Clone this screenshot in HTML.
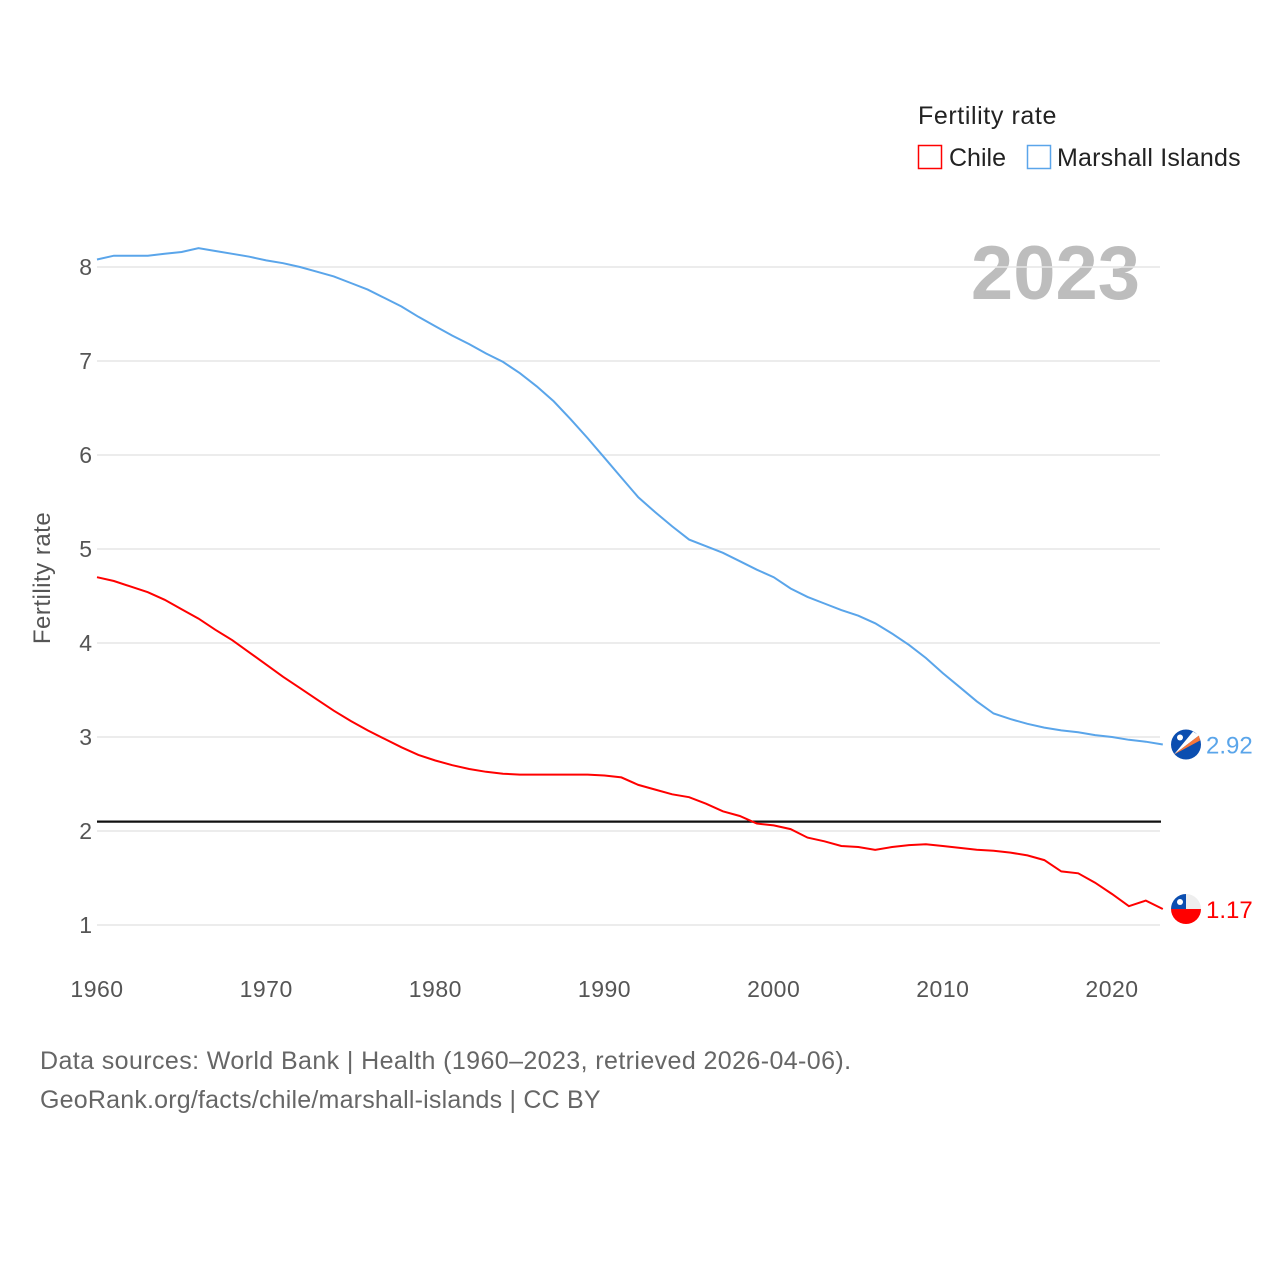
<!DOCTYPE html>
<html><head><meta charset="utf-8"><style>
body{margin:0;background:#fff;font-family:"Liberation Sans",sans-serif}
svg text{font-family:"Liberation Sans",sans-serif}
</style></head><body>
<svg id="chart" width="1280" height="1280" xmlns="http://www.w3.org/2000/svg">
<g>
<text x="918" y="124" font-size="25" fill="#222" letter-spacing="0.6">Fertility rate</text>
<rect x="918.5" y="145.5" width="23" height="23" fill="none" stroke="#ff0000" stroke-width="1.5"/>
<text x="949" y="166" font-size="25" fill="#222">Chile</text>
<rect x="1027.5" y="145.5" width="23" height="23" fill="none" stroke="#5aa5ea" stroke-width="1.5"/>
<text x="1057" y="166" font-size="25" fill="#222" letter-spacing="0.2">Marshall Islands</text>
</g>
<text x="1140" y="299" font-size="76" font-weight="bold" fill="#bdbdbd" text-anchor="end">2023</text>
<g id="grid"></g>
<g id="lines"></g>
<text transform="translate(50,578) rotate(-90)" font-size="24" fill="#555" text-anchor="middle" letter-spacing="0.5">Fertility rate</text>
<text x="40" y="1069" font-size="25" fill="#666" letter-spacing="0.4">Data sources: World Bank | Health (1960–2023, retrieved 2026-04-06).</text>
<text x="40" y="1108" font-size="25" fill="#666" letter-spacing="0.2">GeoRank.org/facts/chile/marshall-islands | CC BY</text>
</svg>
<script>
const years=[];for(let y=1960;y<=2023;y++)years.push(y);
const chile=[4.70,4.66,4.60,4.54,4.46,4.36,4.26,4.14,4.03,3.90,3.77,3.64,3.52,3.40,3.28,3.17,3.07,2.98,2.89,2.81,2.75,2.70,2.66,2.63,2.61,2.60,2.60,2.60,2.60,2.60,2.59,2.57,2.49,2.44,2.39,2.36,2.29,2.21,2.16,2.08,2.06,2.02,1.93,1.89,1.84,1.83,1.80,1.83,1.85,1.86,1.84,1.82,1.80,1.79,1.77,1.74,1.69,1.57,1.55,1.45,1.33,1.20,1.26,1.17];
const marshall=[8.08,8.12,8.12,8.12,8.14,8.16,8.20,8.17,8.14,8.11,8.07,8.04,8.00,7.95,7.90,7.83,7.76,7.67,7.58,7.47,7.37,7.27,7.18,7.08,6.99,6.87,6.73,6.57,6.38,6.18,5.97,5.76,5.55,5.39,5.24,5.10,5.03,4.96,4.87,4.78,4.70,4.58,4.49,4.42,4.35,4.29,4.21,4.10,3.98,3.84,3.68,3.53,3.38,3.25,3.19,3.14,3.10,3.07,3.05,3.02,3.00,2.97,2.95,2.92];
const yTicks=[1,2,3,4,5,6,7,8];
const xTicks=[1960,1970,1980,1990,2000,2010,2020];
const replacement=[2.1];
const X=y=>97+(y-1960)*(1015/60);
const Y=v=>925-(v-1)*94;
const NS="http://www.w3.org/2000/svg";
const grid=document.getElementById('grid'),lines=document.getElementById('lines');
function mk(tag,attrs,parent){const e=document.createElementNS(NS,tag);for(const k in attrs)e.setAttribute(k,attrs[k]);parent.appendChild(e);return e;}
yTicks.forEach(v=>{
 const l=mk('line',{x1:97,x2:1160,y1:Y(v),y2:Y(v),stroke:'#e6e6e6','stroke-width':1.5},grid);
 
 
 const t=mk('text',{x:92,y:Y(v)+8,'font-size':23,fill:'#555','text-anchor':'end'},grid);t.textContent=v;
 
 
});
xTicks.forEach(v=>{
 const t=mk('text',{x:X(v),y:997,'font-size':23,fill:'#555','text-anchor':'middle','letter-spacing':0.5},grid);t.textContent=v;
 
 
});
replacement.forEach(v=>{
 const l=mk('line',{x1:97,x2:1161,y1:Y(v),y2:Y(v),stroke:'#111','stroke-width':2.2},lines);
 
 
});
function series(data,color,name){
 const p=mk('path',{d:data.map((v,i)=>(i?'L':'M')+X(years[i]).toFixed(1)+','+Y(v).toFixed(1)).join(''),fill:'none',stroke:color,'stroke-width':2},lines);
 
 
 const last=data[data.length-1];
 const t=mk('text',{x:1206,y:Y(last)+9,'font-size':24,fill:color},lines);t.textContent=last.toFixed(2);
 
 
 return Y(last);
}
const ym=series(marshall,'#5aa5ea','marshall-islands');
const yc=series(chile,'#ff0000','chile');
const fm=mk('g',{},lines);


mk('circle',{cx:1186,cy:ym,r:15,fill:'#0b4eb0'},fm);
mk('path',{d:`M1174,${ym+10} L1199,${ym-9} L1193,${ym-13} Z`,fill:'#fff'},fm);
mk('path',{d:`M1174,${ym+10} L1199,${ym-9} L1200,${ym-4} Z`,fill:'#f7773b'},fm);
mk('circle',{cx:1180,cy:ym-7,r:3,fill:'#fff'},fm);
const fc=mk('g',{},lines);


mk('clipPath',{id:'cc'},fc);
mk('circle',{cx:1186,cy:yc,r:15},document.getElementById('cc'));
const cg=mk('g',{'clip-path':'url(#cc)'},fc);
mk('rect',{x:1171,y:yc-15,width:30,height:15,fill:'#eee'},cg);
mk('rect',{x:1171,y:yc,width:30,height:15,fill:'#ff0000'},cg);
mk('rect',{x:1171,y:yc-15,width:15,height:15,fill:'#0b4eb0'},cg);
mk('circle',{cx:1180,cy:yc-7,r:3,fill:'#fff'},cg);
</script>
</body></html>
